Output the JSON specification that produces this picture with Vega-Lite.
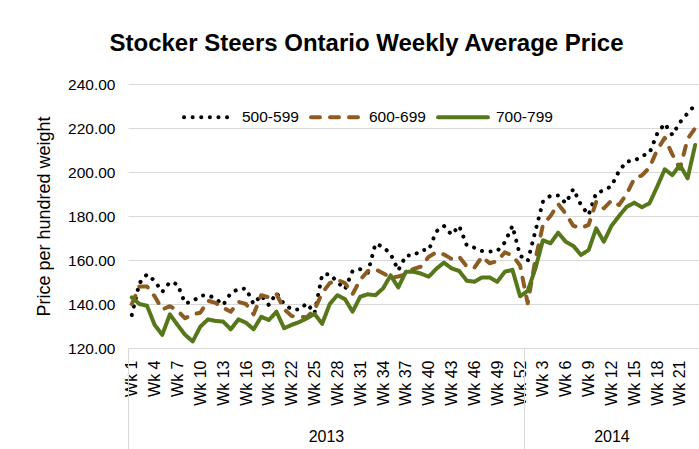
{
  "$schema": "https://vega.github.io/schema/vega-lite/v6.json",
  "width": 571,
  "height": 264,
  "autosize": {"type": "none"},
  "padding": {"left": 128, "top": 84, "right": 0, "bottom": 101},
  "background": "white",
  "config": {"view": {"stroke": null}, "font": "Liberation Sans"},
  "title": {"text": "Stocker Steers Ontario Weekly Average Price", "fontSize": 24, "font": "Liberation Sans", "fontWeight": "bold", "color": "#000000", "anchor": "middle", "frame": "group", "dx": -47, "offset": 2, "baseline": "alphabetic"},
  "data": {"values": [
    {"i":0,"500-599":135,"600-699":140,"700-799":143},
    {"i":1,"500-599":149.5,"600-699":148,"700-799":140},
    {"i":2,"500-599":153.5,"600-699":148,"700-799":139.2},
    {"i":3,"500-599":150.5,"600-699":143.5,"700-799":130.5},
    {"i":4,"500-599":145.5,"600-699":137.5,"700-799":126},
    {"i":5,"500-599":150,"600-699":139,"700-799":135.3},
    {"i":6,"500-599":149,"600-699":137,"700-799":130.5},
    {"i":7,"500-599":140.3,"600-699":133.5,"700-799":126},
    {"i":8,"500-599":141.2,"600-699":135.3,"700-799":123},
    {"i":9,"500-599":143.8,"600-699":136,"700-799":129.7},
    {"i":10,"500-599":144,"600-699":141.5,"700-799":133},
    {"i":11,"500-599":142.5,"600-699":140.5,"700-799":132.3},
    {"i":12,"500-599":139.5,"600-699":138.3,"700-799":132},
    {"i":13,"500-599":145,"600-699":136.5,"700-799":128.5},
    {"i":14,"500-599":146.8,"600-699":141,"700-799":133},
    {"i":15,"500-599":147,"600-699":140,"700-799":131.5},
    {"i":16,"500-599":140,"600-699":135.3,"700-799":128.5},
    {"i":17,"500-599":144,"600-699":144,"700-799":134.2},
    {"i":18,"500-599":139.5,"600-699":143,"700-799":132.7},
    {"i":19,"500-599":145,"600-699":144.5,"700-799":136.5},
    {"i":20,"500-599":140,"600-699":137.7,"700-799":129},
    {"i":21,"500-599":137.5,"600-699":134.5,"700-799":130.5},
    {"i":22,"500-599":137.5,"600-699":134.2,"700-799":131.8},
    {"i":23,"500-599":140.3,"600-699":134,"700-799":133.5},
    {"i":24,"500-599":135.8,"600-699":137.5,"700-799":135.5},
    {"i":25,"500-599":153.3,"600-699":145,"700-799":131},
    {"i":26,"500-599":153.6,"600-699":149.5,"700-799":140},
    {"i":27,"500-599":150,"600-699":151,"700-799":144},
    {"i":28,"500-599":146.7,"600-699":149.5,"700-799":142.2},
    {"i":29,"500-599":155,"600-699":144.5,"700-799":136.5},
    {"i":30,"500-599":155.8,"600-699":151,"700-799":143.3},
    {"i":31,"500-599":154.2,"600-699":155,"700-799":144.4},
    {"i":32,"500-599":167.4,"600-699":155.8,"700-799":144},
    {"i":33,"500-599":166,"600-699":154,"700-799":147.1},
    {"i":34,"500-599":162.7,"600-699":152,"700-799":153},
    {"i":35,"500-599":155.3,"600-699":152.5,"700-799":147.5},
    {"i":36,"500-599":162,"600-699":153.5,"700-799":154.7},
    {"i":37,"500-599":162,"600-699":156,"700-799":154.7},
    {"i":38,"500-599":164.5,"600-699":157,"700-799":153.8},
    {"i":39,"500-599":164.5,"600-699":161.5,"700-799":152.4},
    {"i":40,"500-599":173,"600-699":163.5,"700-799":156},
    {"i":41,"500-599":175.5,"600-699":162.5,"700-799":158.8},
    {"i":42,"500-599":171.5,"600-699":160.5,"700-799":156.2},
    {"i":43,"500-599":175.5,"600-699":161.5,"700-799":155},
    {"i":44,"500-599":166.6,"600-699":157,"700-799":150.6},
    {"i":45,"500-599":165.6,"600-699":156.5,"700-799":150.1},
    {"i":46,"500-599":164.1,"600-699":161.5,"700-799":152.1},
    {"i":47,"500-599":163.8,"600-699":158.5,"700-799":152.1},
    {"i":48,"500-599":164.1,"600-699":159.5,"700-799":150.1},
    {"i":49,"500-599":168,"600-699":163.5,"700-799":154.7},
    {"i":50,"500-599":175.5,"600-699":162,"700-799":155.5},
    {"i":51,"500-599":162,"600-699":157.5,"700-799":143.5},
    {"i":52,"500-599":159.5,"600-699":140.3,"700-799":146},
    {"i":53,"500-599":173,"600-699":160,"700-799":156},
    {"i":54,"500-599":186.5,"600-699":176,"700-799":169},
    {"i":55,"500-599":189.3,"600-699":180,"700-799":167.6},
    {"i":56,"500-599":189.3,"600-699":185.5,"700-799":172.4},
    {"i":57,"500-599":185.8,"600-699":181,"700-799":168.3},
    {"i":58,"500-599":192.3,"600-699":175.5,"700-799":166.4},
    {"i":59,"500-599":185,"600-699":174.5,"700-799":162.3},
    {"i":60,"500-599":180.5,"600-699":176,"700-799":164.5},
    {"i":61,"500-599":190.5,"600-699":186.5,"700-799":174.4},
    {"i":62,"500-599":191.6,"600-699":183.5,"700-799":168.3},
    {"i":63,"500-599":193.6,"600-699":187,"700-799":175.5},
    {"i":64,"500-599":200.5,"600-699":185,"700-799":180},
    {"i":65,"500-599":204.8,"600-699":190,"700-799":184.2},
    {"i":66,"500-599":205,"600-699":197,"700-799":186},
    {"i":67,"500-599":207.3,"600-699":198.5,"700-799":184},
    {"i":68,"500-599":208.6,"600-699":202,"700-799":185.8},
    {"i":69,"500-599":217.3,"600-699":210,"700-799":193.3},
    {"i":70,"500-599":222,"600-699":215.5,"700-799":201.2},
    {"i":71,"500-599":216.8,"600-699":208,"700-799":198.6},
    {"i":72,"500-599":222.6,"600-699":201.5,"700-799":203.2},
    {"i":73,"500-599":226.7,"600-699":215,"700-799":197.1},
    {"i":74,"500-599":230.5,"600-699":220,"700-799":212.3}
  ]},
  "transform": [{"fold": ["500-599", "600-699", "700-799"], "as": ["series", "price"]}],
  "layer": [
    {
      "mark": {"type": "line", "strokeWidth": 4, "strokeCap": "round", "strokeJoin": "round"},
      "encoding": {
        "x": {
          "field": "i", "type": "quantitative",
          "scale": {"domain": [-0.5, 74.5], "nice": false, "zero": false},
          "axis": {
            "orient": "bottom",
            "values": [0,3,6,9,12,15,18,21,24,27,30,33,36,39,42,45,48,51,54,57,60,63,66,69,72],
            "labelExpr": "datum.value < 52 ? 'Wk ' + (datum.value + 1) : 'Wk ' + (datum.value - 51)",
            "labelAngle": 270,
            "labelFontSize": 16,
            "labelColor": "#000000",
            "labelPadding": 12,
            "ticks": false,
            "domainColor": "#d9d9d9",
            "domainWidth": 1,
            "grid": false,
            "title": null,
            "labelOverlap": false,
            "labelFlush": false
          }
        },
        "y": {
          "field": "price", "type": "quantitative",
          "scale": {"domain": [120, 240], "nice": false, "zero": false},
          "axis": {
            "values": [120, 140, 160, 180, 200, 220, 240],
            "format": ".2f",
            "labelFontSize": 15.5,
            "labelColor": "#000000",
            "labelPadding": 13,
            "ticks": false,
            "domain": false,
            "gridColor": "#d9d9d9",
            "gridWidth": 1,
            "title": "Price per hundred weight",
            "titleFontSize": 18,
            "titleFontWeight": "normal",
            "titleColor": "#000000",
            "titlePadding": 14
          }
        },
        "color": {
          "field": "series", "type": "nominal",
          "scale": {"domain": ["500-599", "600-699", "700-799"], "range": ["#000000", "#8c5c23", "#56771a"]},
          "legend": {
            "orient": "none", "legendX": 54, "legendY": 6, "direction": "horizontal",
            "title": null, "labelFontSize": 15.5, "labelColor": "#000000",
            "symbolType": "stroke", "symbolSize": 2500, "symbolStrokeWidth": 4,
            "labelOffset": 6, "columnPadding": 4,
            "encode": {"symbols": {"update": {"strokeCap": {"value": "round"}}}}
          }
        },
        "strokeDash": {
          "field": "series", "type": "nominal",
          "scale": {"domain": ["500-599", "600-699", "700-799"], "range": [[0.1, 8.5], [9, 10], [1, 0]]}
        }
      }
    },
    {
      "mark": {"type": "point", "opacity": 0},
      "encoding": {
        "x": {
          "field": "i", "type": "quantitative",
          "scale": {"domain": [-0.5, 74.5], "nice": false, "zero": false},
          "axis": {
            "orient": "bottom",
            "values": [-0.5, 25.5, 51.5, 63, 74.5],
            "tickSize": 101,
            "tickColor": {"condition": {"test": "datum.value == 25.5 || datum.value == 63", "value": "transparent"}, "value": "#d9d9d9"},
            "labelExpr": "datum.value == 25.5 ? '2013' : (datum.value == 63 ? '2014' : '')",
            "labelAngle": 0,
            "labelBaseline": "top",
            "labelPadding": -21,
            "labelFontSize": 16,
            "labelColor": "#000000",
            "domain": false,
            "grid": false,
            "title": null,
            "labelFlush": false,
            "labelOverlap": false
          }
        }
      }
    }
  ],
  "resolve": {"axis": {"x": "independent"}}
}
